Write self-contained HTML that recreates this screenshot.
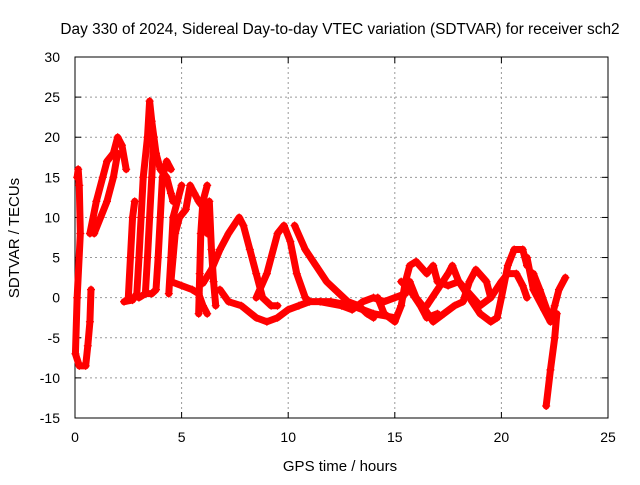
<!DOCTYPE html>
<html><head><meta charset="utf-8"><style>
body{margin:0;background:#fff;}
svg text{font-family:"Liberation Sans",sans-serif;font-size:14px;fill:#000;}
</style></head><body>
<svg id="chart" width="640" height="480" xmlns="http://www.w3.org/2000/svg">
<rect width="640" height="480" fill="#fff"/>
<text x="340" y="34" text-anchor="middle" style="font-size:15.4px">Day 330 of 2024, Sidereal Day-to-day VTEC variation (SDTVAR) for receiver sch2</text>
<text x="340" y="471" text-anchor="middle" style="font-size:15px">GPS time / hours</text>
<text x="19" y="238" text-anchor="middle" transform="rotate(-90 19 238)" style="font-size:15px">SDTVAR / TECUs</text>
<g id="grid"></g>
<g id="axes"></g>
<g id="marks"></g>
</svg>
<script>
const xTicks=[0,5,10,15,20,25];
const yTicks=[-15,-10,-5,0,5,10,15,20,25,30];
const s1=[[0.1,15],[0.15,16],[0.2,14],[0.25,8],[0.1,0],[0.02,-7],[0.2,-8.5],[0.5,-8.5],[0.6,-6],[0.7,-3],[0.75,1]];
const s2=[[0.7,8],[1.0,12],[1.3,15],[1.5,17],[1.8,18],[2.0,20],[2.2,19],[2.4,16]];
const s3=[[0.9,8],[1.2,10],[1.5,12],[1.8,15],[2.0,18]];
const s4=[[2.3,-0.5],[2.7,-0.3],[2.9,0.5],[3.0,5],[3.1,10],[3.2,15],[3.4,20],[3.5,24.5],[3.6,22],[3.8,18],[4.0,16],[4.3,15],[4.5,13],[4.6,12]];
const s5=[[3.3,0.5],[3.6,0.5],[3.8,1],[3.9,5],[4.0,10],[4.1,15],[4.3,17],[4.5,16]];
const s6=[[4.5,2],[5.0,1.5],[5.5,1],[5.8,0.5],[6.0,-1],[6.2,-2]];
const s7=[[4.5,2],[4.7,8],[4.9,10],[5.2,11],[5.4,14],[5.6,13],[5.8,12],[6.1,11],[6.2,8]];
const s8=[[6.0,1.8],[6.4,3.5],[6.8,6],[7.2,8],[7.7,10],[7.9,9],[8.2,6],[8.5,3],[8.8,0],[9.2,-1],[9.5,-1]];
const s9=[[6.8,1],[7.2,-0.5],[7.8,-1],[8.5,-2.5],[9,-3],[9.5,-2.5],[10,-1.5],[10.5,-1],[11,-0.5],[12,-0.5],[13,-1],[14,-2],[15,-2.5]];
const s10=[[8.5,0],[9,3],[9.5,8],[9.8,9],[10.1,7],[10.4,3],[10.8,0],[11,-0.5]];
const s11=[[10.3,9],[10.8,6],[11.3,4],[11.8,2],[12.2,1],[12.8,-0.5],[13.3,-1],[13.7,-2],[14,-2.5]];
const s12=[[11.5,-0.5],[12.5,-1],[13,-1.5],[13.5,-0.5],[14,0],[14.5,-0.5],[15,0],[15.5,0.5]];
const s13=[[14.2,0],[14.5,-2],[15,-3],[15.3,-1],[15.5,2],[15.7,4],[16,4.5],[16.5,3],[16.8,4],[17,2],[17.5,1.5],[18,2],[18.5,0.5],[19,-1],[19.5,0],[20,2],[20.3,3],[20.7,3],[21,1.5],[21.2,0]];
const s14=[[15.7,2],[16,0],[16.3,-1],[16.8,-3],[17.3,-2],[17.8,-1],[18.2,-0.5],[18.5,2],[18.8,3.5],[19.3,2],[19.5,0]];
const s15=[[16.5,-1],[17,1],[17.5,3],[17.7,4],[18,2],[18.5,0],[19,-2],[19.5,-3],[19.8,-2.5],[20,0],[20.3,4],[20.6,6],[21,6],[21.2,4]];
const s16=[[21.2,5],[21.5,1],[22,-1.5],[22.3,-3],[22.5,-1],[22.7,1],[23,2.5]];
const s17=[[21.5,3],[21.8,1],[22.2,-2],[22.6,-2],[22.5,-5],[22.3,-9],[22.1,-13.5]];
const s18=[[2.5,0],[2.6,5],[2.7,10],[2.8,12]];
const s19=[[4.4,0.5],[4.5,5],[4.6,10],[4.8,12],[5.0,14]];
const s20=[[5.8,-2],[5.85,3],[5.9,8],[6.0,12],[6.2,14]];
const s21=[[6.3,12],[6.4,6],[6.5,2],[6.6,-1]];
const s22=[[3.0,0],[3.3,0.5],[3.4,5],[3.5,10],[3.6,15],[3.7,20]];
const s23=[[15.3,2],[15.7,1],[16.2,-1],[16.5,-2.5],[17,-2]];
const seriesList=[s1,s2,s3,s4,s5,s6,s7,s8,s9,s10,s11,s12,s13,s14,s15,s16,s17,s18,s19,s20,s21,s22,s23];

const L=75,R=608,T=57,B=418;
const xs=t=>L+(t-0)/(25-0)*(R-L);
const ys=v=>B-(v+15)/(45)*(B-T);
const NS="http://www.w3.org/2000/svg";
const grid=document.getElementById('grid'),axes=document.getElementById('axes'),marks=document.getElementById('marks');
function mk(tag,attrs,parent){const e=document.createElementNS(NS,tag);for(const k in attrs)e.setAttribute(k,attrs[k]);parent.appendChild(e);return e;}
xTicks.forEach(t=>{
  const x=xs(t);
  if(t>0&&t<25){const g=mk('line',{x1:x,x2:x,y1:T,y2:B,stroke:'#999','stroke-dasharray':'2,3'},grid);
  
  }
  mk('line',{x1:x,x2:x,y1:B,y2:B-6,stroke:'#000'},axes);
  mk('line',{x1:x,x2:x,y1:T,y2:T+6,stroke:'#000'},axes);
  const tx=mk('text',{x:x,y:B+24,'text-anchor':'middle'},axes);tx.textContent=t;
  
  
});
yTicks.forEach(v=>{
  const y=ys(v);
  if(v>-15&&v<30){const g=mk('line',{x1:L,x2:R,y1:y,y2:y,stroke:'#999','stroke-dasharray':'2,3'},grid);
  
  }
  mk('line',{x1:L,x2:L+6,y1:y,y2:y,stroke:'#000'},axes);
  mk('line',{x1:R,x2:R-6,y1:y,y2:y,stroke:'#000'},axes);
  const tx=mk('text',{x:L-15,y:y+5,'text-anchor':'end'},axes);tx.textContent=v;
  
  
});
const fr=mk('rect',{x:L,y:T,width:R-L,height:B-T,fill:'none',stroke:'#000'},axes);


seriesList.forEach(s=>{
  const p=mk('polyline',{points:s.map(d=>xs(d[0])+','+ys(d[1])).join(' '),fill:'none',stroke:'#f00','stroke-width':7,'stroke-linejoin':'round','stroke-linecap':'round'},marks);
  
  
  s.forEach(d=>{
    const x=xs(d[0]),y=ys(d[1]);
    const m=mk('path',{d:`M${x-4},${y}H${x+4}M${x},${y-4}V${y+4}`,stroke:'#f00','stroke-width':1.2},marks);
    
    
  });
});
</script>
</body></html>
